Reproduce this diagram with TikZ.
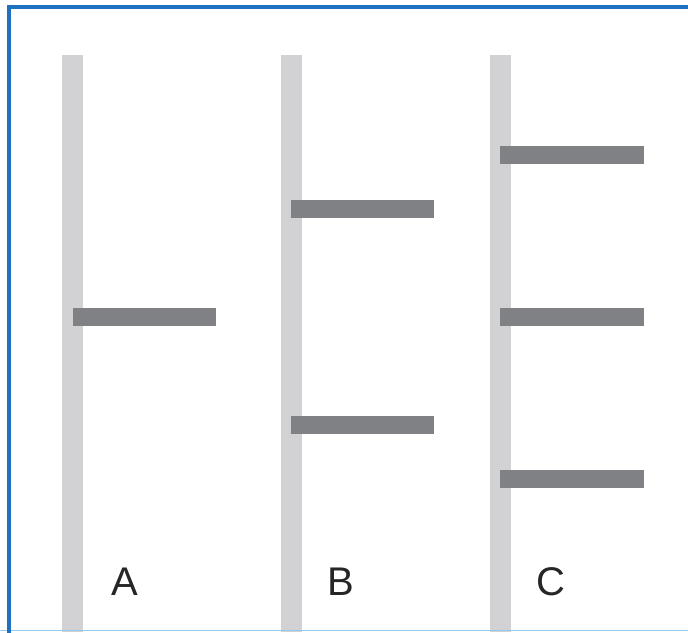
\documentclass[tikz,border=0pt]{standalone}
\usepackage{fontspec}
\setmainfont{Liberation Sans}
\definecolor{poleg}{RGB}{210,210,212}
\definecolor{rungg}{RGB}{128,129,133}
\definecolor{frameb}{RGB}{30,112,192}
\definecolor{framel}{RGB}{150,200,235}
\begin{document}
\begin{tikzpicture}[x=1pt,y=-1pt,
  pole/.style={fill=poleg},
  rung/.style={fill=rungg},
  lab/.style={font=\fontsize{40}{40}\selectfont, text=black!85, inner sep=0pt}]
\useasboundingbox (0,0) rectangle (688,632);
\fill[white] (0,0) rectangle (688,632);
% poles
\fill[pole] (62,55) rectangle (83,632);
\fill[pole] (281,55) rectangle (302,632);
\fill[pole] (490,55) rectangle (511,632);
% rungs
\fill[rung] (73,308) rectangle (216,326);
\fill[rung] (291,200) rectangle (434,218);
\fill[rung] (291,416) rectangle (434,434);
\fill[rung] (500,146) rectangle (644,164);
\fill[rung] (500,308) rectangle (644,326);
\fill[rung] (500,470) rectangle (644,488);
% labels
\node[lab] (la) at (125,582) {A};
\node[lab] (lb) at (341,582) {B};
\node[lab] (lc) at (551,582) {C};
% frame
\draw[framel, line width=1.5pt] (0,630.5) -- (688,630.5);
\draw[frameb, line width=4pt, line cap=rect] (8.5,632) -- (8.5,7) -- (688,7);
\end{tikzpicture}
\end{document}
